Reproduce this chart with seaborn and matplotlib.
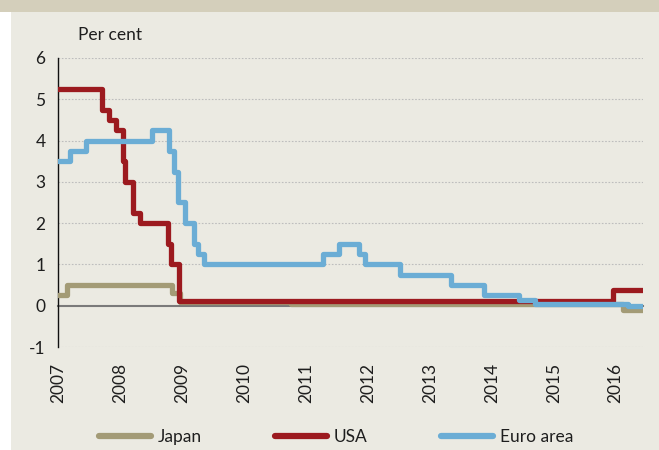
import matplotlib
matplotlib.use("Agg")
import matplotlib.pyplot as plt
from matplotlib.patches import Rectangle
from matplotlib.lines import Line2D
import seaborn as sns
import pandas as pd

# ---- data (policy rates, per cent; step changes) ----
japan_dates = ["2007-01-01", "2007-02-21", "2008-10-31", "2008-12-19", "2010-10-05",
               "2016-02-16", "2016-06-08"]
japan_rates = [0.25, 0.50, 0.30, 0.10, 0.05, -0.10, -0.10]

usa_dates = ["2007-01-01", "2007-09-18", "2007-10-31", "2007-12-11", "2008-01-22",
             "2008-01-30", "2008-03-18", "2008-04-30", "2008-10-08", "2008-10-29",
             "2008-12-16", "2015-12-16", "2016-06-08"]
usa_rates = [5.25, 4.75, 4.50, 4.25, 3.50, 3.00, 2.25, 2.00, 1.50, 1.00, 0.125, 0.375, 0.375]

euro_dates = ["2007-01-01", "2007-03-14", "2007-06-13", "2008-07-09", "2008-10-15",
              "2008-11-12", "2008-12-10", "2009-01-21", "2009-03-11", "2009-04-08",
              "2009-05-13", "2011-04-13", "2011-07-13", "2011-11-09", "2011-12-14",
              "2012-07-11", "2013-05-08", "2013-11-13", "2014-06-11", "2014-09-10",
              "2016-03-16", "2016-06-08"]
euro_rates = [3.50, 3.75, 4.00, 4.25, 3.75, 3.25, 2.50, 2.00, 1.50, 1.25, 1.00, 1.25,
              1.50, 1.25, 1.00, 0.75, 0.50, 0.25, 0.15, 0.05, 0.00, 0.00]

series_names = ["Japan", "USA", "Euro area"]
series_colors = ["#a39b76", "#9c1a1f", "#6badd5"]
year_ticks = list(range(2007, 2017))
y_ticks = [-1, 0, 1, 2, 3, 4, 5, 6]

frames = []
for name, d, r in zip(series_names, [japan_dates, usa_dates, euro_dates],
                      [japan_rates, usa_rates, euro_rates]):
    frames.append(pd.DataFrame({"date": pd.to_datetime(d), "rate": r, "series": name}))
df = pd.concat(frames, ignore_index=True)

# ---- styling ----
sns.set_theme(style="white")
plt.rcParams["font.family"] = ["Lato", "DejaVu Sans"]
plt.rcParams["axes.unicode_minus"] = False

bg = "#ebeae2"
fig = plt.figure(figsize=(6.59, 4.5), dpi=100, facecolor=bg)
ax = fig.add_axes([58 / 659, 1 - 347 / 450, (643 - 58) / 659, (347 - 58) / 450])
ax.set_facecolor(bg)

# decorative top band & left white strip
fig.patches.append(Rectangle((0, 1 - 12 / 450), 1, 12 / 450, transform=fig.transFigure,
                             facecolor="#d4cfbb", edgecolor="none", zorder=0))
fig.patches.append(Rectangle((0, 0), 11 / 659, 1 - 12 / 450, transform=fig.transFigure,
                             facecolor="white", edgecolor="none", zorder=0))

palette = dict(zip(series_names, series_colors))
sns.lineplot(data=df, x="date", y="rate", hue="series", hue_order=series_names,
             palette=palette, estimator=None, drawstyle="steps-post",
             linewidth=3.8, legend=False, ax=ax, zorder=3)

ax.set_ylim(-1, 6)
ax.set_xlim(pd.Timestamp("2007-01-01"), pd.Timestamp("2016-06-10"))
ax.set_xlabel("")
ax.set_ylabel("")

for s in ["top", "right"]:
    ax.spines[s].set_visible(False)
ax.spines["left"].set_color("#111111")
ax.spines["left"].set_linewidth(1.0)
ax.spines["bottom"].set_position(("data", 0))
ax.spines["bottom"].set_color("#7a7a7a")
ax.spines["bottom"].set_linewidth(1.5)
ax.spines["bottom"].set_zorder(2)

ax.tick_params(axis="y", direction="out", length=5, width=1, color="#111111", pad=4,
               labelsize=12.5, labelcolor="#1e1e1e")
ax.tick_params(axis="x", direction="out", length=5, width=1, color="#555555", pad=36,
               labelsize=12.5, labelcolor="#1e1e1e", labelrotation=90)

ax.set_yticks(y_ticks)
ax.set_yticklabels([str(v) for v in y_ticks])
ax.set_xticks([pd.Timestamp(f"{y}-01-01") for y in year_ticks])
ax.set_xticklabels([str(y) for y in year_ticks])
for lbl in ax.get_xticklabels():
    lbl.set_rotation(90)

# grid
for v in y_ticks:
    if v != 0:
        ax.axhline(v, color="#bdbdbd", lw=0.8, ls=(0, (1.5, 1.5)), zorder=1)

fig.text(78 / 659, 1 - 35 / 450, "Per cent", fontsize=12.5, color="#1e1e1e",
         ha="left", va="center")

handles = [Line2D([0], [0], color=c, lw=4.5, solid_capstyle="round") for c in series_colors]
fig.legend(handles, series_names, loc="center", bbox_to_anchor=(0.51, 1 - 437 / 450),
           ncol=3, frameon=False, fontsize=12.5, handlelength=3.0, handletextpad=0.4,
           columnspacing=4.2, labelcolor="#1e1e1e")

fig.savefig("out.png", dpi=100, facecolor=fig.get_facecolor())
